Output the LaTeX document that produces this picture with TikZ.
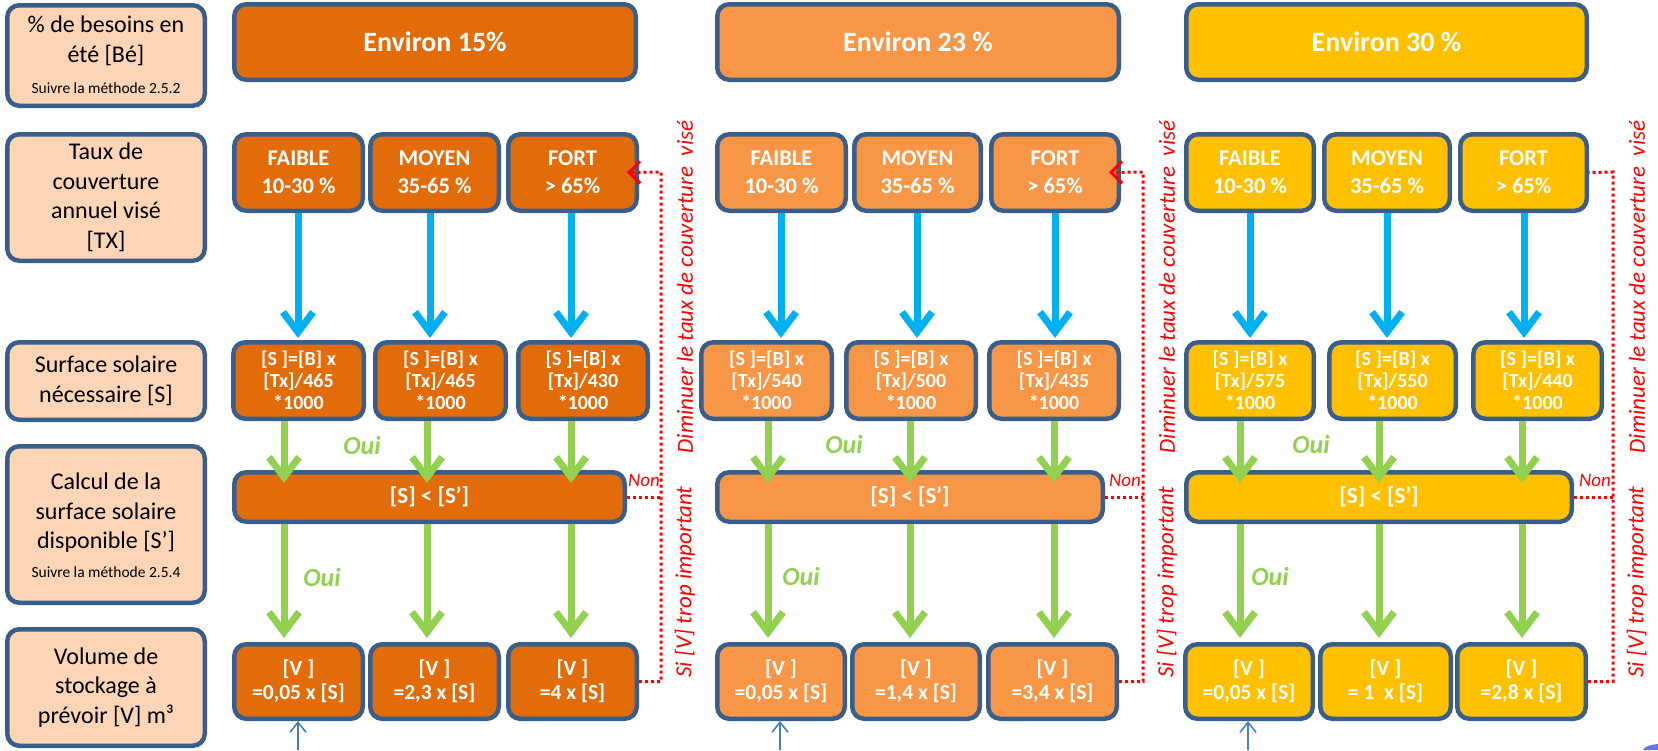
\documentclass[tikz,border=0pt]{standalone}
\usepackage{fontspec}
\setmainfont{Carlito}
\usetikzlibrary{arrows.meta}

\definecolor{edgeblue}{RGB}{58,94,139}
\definecolor{peach}{RGB}{251,213,181}
\definecolor{colA}{RGB}{227,108,10}
\definecolor{colB}{RGB}{247,150,70}
\definecolor{colC}{RGB}{255,192,0}
\definecolor{skyc}{RGB}{0,176,240}
\definecolor{leaf}{RGB}{146,208,80}
\definecolor{thinblue}{RGB}{74,126,187}
\definecolor{redc}{RGB}{255,0,0}
\definecolor{blobc}{RGB}{104,116,228}

% box from its outer edges (x1,y1)-(x2,y2), y growing downwards
\newcommand\bx[7]{%
  \pgfmathsetmacro\bxw{#5-#3-4.5}%
  \pgfmathsetmacro\bxh{#6-#4-4.5}%
  \node[#2, minimum width=\bxw pt, minimum height=\bxh pt] (#1) at ({(#3+#5)/2},{(#4+#6)/2}) {#7};}

\tikzset{
  box/.style={draw=edgeblue, line width=4.5pt, rounded corners=12pt, align=center, inner sep=0pt, text=white},
  lab/.style={box, fill=peach, text=black, font=\fontsize{24}{29.5}\selectfont},
  labtxt/.style={align=center, inner sep=0pt, font=\fontsize{24}{29.5}\selectfont},
  smalltxt/.style={inner sep=0pt, font=\fontsize{15.5}{18}\selectfont},
  hd/.style={box, font=\fontsize{28}{32}\selectfont\bfseries},
  lvl/.style={box, font=\fontsize{22.5}{28}\selectfont\bfseries},
  frm/.style={box, font=\fontsize{20}{22}\selectfont\bfseries},
  vol/.style={box, font=\fontsize{21.5}{24}\selectfont\bfseries},
  cmp/.style={box, font=\fontsize{23}{28}\selectfont\bfseries},
  ca/.style={fill=colA}, cb/.style={fill=colB}, cc/.style={fill=colC},
  bluearr/.style={draw=skyc, line width=7pt, -{Straight Barb[length=20pt,width=30pt]}},
  greenarr/.style={draw=leaf, line width=7pt, -{Straight Barb[length=20pt,width=30pt]}},
  thinarr/.style={draw=thinblue, line width=1.6pt, -{Straight Barb[length=10pt,width=16pt]}},
  reddot/.style={draw=redc, line width=3pt, dash pattern=on 3pt off 3pt},
  redhead/.style={-{Straight Barb[length=11pt,width=22pt,line width=3pt]}},
  ouilbl/.style={text=leaf, font=\fontsize{26}{30}\selectfont\bfseries\itshape, inner sep=0pt},
  nonlbl/.style={text=redc, font=\fontsize{19}{21}\selectfont\itshape, inner sep=0pt},
  sidetxt/.style={text=redc, font=\fontsize{23}{26}\selectfont\itshape, rotate=90, inner sep=0pt},
}

\begin{document}
\begin{tikzpicture}[x=1pt,y=-1pt]
\useasboundingbox (0,0) rectangle (1658,750);

% ---- row labels ----
\bx{L0}{lab}{5}{3}{207}{108}{}
\node[labtxt,font=\fontsize{24}{30}\selectfont] (L0t) at (106,41) {\% de besoins en\\été [Bé]};
\node[smalltxt] (L0s) at (106,88) {Suivre la méthode 2.5.2};
\bx{L1}{lab}{5}{132}{207}{263}{Taux de\\couverture\\annuel visé\\{}[TX]}
\bx{L2}{lab}{5}{340}{207}{422}{Surface solaire\\nécessaire [S]}
\bx{L3}{lab}{5}{444}{207}{605}{}
\node[labtxt] (L3t) at (106,513) {Calcul de la\\surface solaire\\disponible [S’]};
\node[smalltxt] (L3s) at (106,572) {Suivre la méthode 2.5.4};
\bx{L4}{lab}{5}{627}{207}{748}{Volume de\\stockage à\\prévoir [V] m³}

% ---- column 1 : about 15 % ----
\bx{H1}{hd,ca}{232}{2}{638}{82}{Environ 15\%}
\bx{T11}{lvl,ca}{232}{132}{365}{213}{FAIBLE\\10-30 \%}
\bx{T12}{lvl,ca}{368}{132}{501}{213}{MOYEN\\35-65 \%}
\bx{T13}{lvl,ca}{506}{132}{639}{213}{FORT\\> 65\%}
\bx{F11}{frm,ca}{231}{340}{366}{421}{[S ]=[B] x\\{}[Tx]/465\\*1000}
\bx{F12}{frm,ca}{373}{340}{508}{421}{[S ]=[B] x\\{}[Tx]/465\\*1000}
\bx{F13}{frm,ca}{516}{340}{650}{421}{[S ]=[B] x\\{}[Tx]/430\\*1000}
\bx{B1}{cmp,ca}{232}{470}{627}{524}{[S] < [S’]}
\bx{V11}{vol,ca}{232}{642}{365}{721}{[V ]\\=0,05 x [S]}
\bx{V12}{vol,ca}{368}{642}{501}{721}{[V ]\\=2,3 x [S]}
\bx{V13}{vol,ca}{506}{642}{639}{721}{[V ]\\=4 x [S]}

% ---- column 2 : about 23 % ----
\bx{H2}{hd,cb}{715}{2}{1121}{82}{Environ 23 \%}
\bx{T21}{lvl,cb}{715}{132}{848}{213}{FAIBLE\\10-30 \%}
\bx{T22}{lvl,cb}{852}{132}{983}{213}{MOYEN\\35-65 \%}
\bx{T23}{lvl,cb}{989}{132}{1121}{213}{FORT\\> 65\%}
\bx{F21}{frm,cb}{699}{340}{834}{421}{[S ]=[B] x\\{}[Tx]/540\\*1000}
\bx{F22}{frm,cb}{844}{340}{978}{421}{[S ]=[B] x\\{}[Tx]/500\\*1000}
\bx{F23}{frm,cb}{987}{340}{1121}{421}{[S ]=[B] x\\{}[Tx]/435\\*1000}
\bx{B2}{cmp,cb}{715}{470}{1105}{524}{[S] < [S’]}
\bx{V21}{vol,cb}{715}{642}{847}{721}{[V ]\\=0,05 x [S]}
\bx{V22}{vol,cb}{850}{642}{982}{721}{[V ]\\=1,4 x [S]}
\bx{V23}{vol,cb}{986}{642}{1119}{721}{[V ]\\=3,4 x [S]}

% ---- column 3 : about 30 % ----
\bx{H3}{hd,cc}{1184}{2}{1589}{82}{Environ 30 \%}
\bx{T31}{lvl,cc}{1184}{132}{1316}{213}{FAIBLE\\10-30 \%}
\bx{T32}{lvl,cc}{1322}{132}{1452}{213}{MOYEN\\35-65 \%}
\bx{T33}{lvl,cc}{1458}{132}{1589}{213}{FORT\\> 65\%}
\bx{F31}{frm,cc}{1184}{340}{1316}{421}{[S ]=[B] x\\{}[Tx]/575\\*1000}
\bx{F32}{frm,cc}{1327}{340}{1458}{421}{[S ]=[B] x\\{}[Tx]/550\\*1000}
\bx{F33}{frm,cc}{1471}{340}{1604}{421}{[S ]=[B] x\\{}[Tx]/440\\*1000}
\bx{B3}{cmp,cc}{1184}{470}{1574}{524}{[S] < [S’]}
\bx{V31}{vol,cc}{1183}{642}{1315}{721}{[V ]\\=0,05 x [S]}
\bx{V32}{vol,cc}{1318}{642}{1453}{721}{[V ]\\= 1~~x [S]}
\bx{V33}{vol,cc}{1455}{642}{1588}{721}{[V ]\\=2,8 x [S]}

% ---- blue arrows: coverage level -> surface formula ----
\foreach \t/\f/\x in {T11/F11/298, T12/F12/430, T13/F13/571,
                      T21/F21/781, T22/F22/917, T23/F23/1055,
                      T31/F31/1250, T32/F32/1387, T33/F33/1524}
  \draw[bluearr] (\t.south -| \x,0) -- ([yshift=2pt]\f.north -| \x,0);

% ---- green arrows: formula -> comparison -> volume ----
\foreach \f/\b/\v/\x in {F11/B1/V11/284, F12/B1/V12/427, F13/B1/V13/571,
                         F21/B2/V21/768, F22/B2/V22/910, F23/B2/V23/1054,
                         F31/B3/V31/1240, F32/B3/V32/1379, F33/B3/V33/1522}{
  \draw[greenarr] (\f.south -| \x,0) -- ([yshift=-13pt]\b.north -| \x,0);
  \draw[greenarr] (\b.south -| \x,0) -- ([yshift=4pt]\v.north -| \x,0);
}

\node[ouilbl] (oa1) at (362,445) {Oui};
\node[ouilbl] (ob1) at (322,577) {Oui};
\node[ouilbl] (oa2) at (844,444) {Oui};
\node[ouilbl] (ob2) at (801,576) {Oui};
\node[ouilbl] (oa3) at (1311,444) {Oui};
\node[ouilbl] (ob3) at (1270,576) {Oui};

% ---- red dotted feedback loops ----
\coordinate (q1) at (661,172);
\coordinate (q2) at (1143,172);
\coordinate (q3) at (1613,172);
\draw[reddot,redhead] (V13.east) -| (q1) -- ([xshift=-12pt]T13.east);
\draw[reddot] (B1.east) -- (B1.east -| q1);
\draw[reddot,redhead] (V23.east) -| (q2) -- ([xshift=-12pt]T23.east);
\draw[reddot] (B2.east) -- (B2.east -| q2);
\draw[reddot] (V33.east) -| (q3) -- (T33.east);
\draw[reddot] (B3.east) -- (B3.east -| q3);

\node[nonlbl] (n1) at (644,480) {Non};
\node[nonlbl] (n2) at (1125,480) {Non};
\node[nonlbl] (n3) at (1595,480) {Non};

\node[sidetxt] (d1) at (685,287) {Diminuer le taux de couverture~~visé};
\node[sidetxt] (s1) at (685,582) {Si [V] trop important};
\node[sidetxt] (d2) at (1167,287) {Diminuer le taux de couverture~~visé};
\node[sidetxt] (s2) at (1167,582) {Si [V] trop important};
\node[sidetxt] (d3) at (1637,287) {Diminuer le taux de couverture~~visé};
\node[sidetxt] (s3) at (1637,582) {Si [V] trop important};

% ---- thin blue arrows entering from below ----
\coordinate (u1) at (298,750);
\coordinate (u2) at (780,750);
\coordinate (u3) at (1248,750);
\draw[thinarr] (u1) -- (u1 |- V11.south);
\draw[thinarr] (u2) -- (u2 |- V21.south);
\draw[thinarr] (u3) -- (u3 |- V31.south);

% ---- corner shape cut by the frame ----
\fill[blobc] (1643,750) .. controls (1644,747) and (1649,745) .. (1658,744) -- (1658,750) -- cycle;
\end{tikzpicture}
\end{document}
